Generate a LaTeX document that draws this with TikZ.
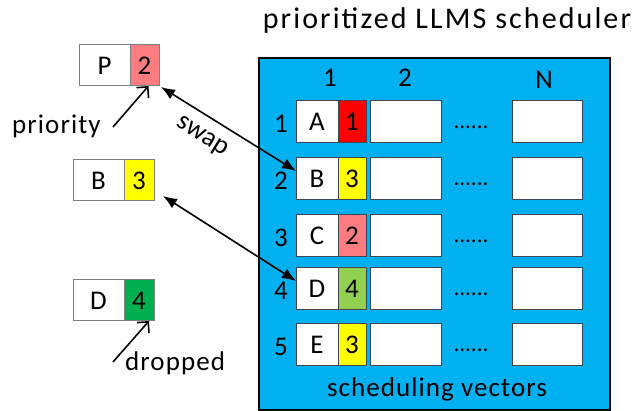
\documentclass[tikz,border=0pt]{standalone}
\usepackage{fontspec}
\setmainfont{Carlito}
\newfontfamily\lblfont[LetterSpace=4]{Carlito}
\newfontfamily\ttlfont[LetterSpace=7]{Carlito}
\usetikzlibrary{arrows.meta}

\definecolor{panelblue}{HTML}{00B0F0}
\definecolor{prRed}{HTML}{FF0000}
\definecolor{prYellow}{HTML}{FFFF00}
\definecolor{prPink}{HTML}{FF7C80}
\definecolor{prLime}{HTML}{92D050}
\definecolor{prGreen}{HTML}{00B050}
\definecolor{cellline}{HTML}{3B4650}
\definecolor{looseline}{HTML}{808080}

\tikzset{
  big/.style={font=\fontsize{27}{30}\selectfont},
  cell/.style={draw=cellline, line width=1pt, fill=white, minimum height=42pt,
    inner sep=0pt, outer sep=0pt, anchor=north west, big},
  loose/.style={cell, draw=looseline, minimum height=41pt},
  label/.style={inner sep=0pt, font=\lblfont\fontsize{27}{30}\selectfont},
  swaparrow/.style={arrows={Latex[length=14pt,width=11pt]-Latex[length=14pt,width=11pt]},
    line width=1.6pt, shorten <=0pt, shorten >=0pt},
  pointer/.style={arrows={-Straight Barb[length=8pt,width=16pt]}, line width=1.6pt},
}

\begin{document}
\begin{tikzpicture}[x=1pt, y=-1pt]
\useasboundingbox (0,0) rectangle (641,411);

% title
\node[inner sep=0pt, anchor=base, font=\ttlfont\fontsize{30}{33}\selectfont]
  (title) at (447,29) {prioritized LLMS scheduler};

% scheduler panel
\node[draw=black, line width=1.6pt, fill=panelblue, minimum width=351pt,
  minimum height=352pt, anchor=north west, inner sep=0pt] (panel) at (258,57) {};

% column headers
\node[big, inner sep=0pt] (h1) at (330,78) {1};
\node[big, inner sep=0pt] (h2) at (405,78) {2};
\node[big, inner sep=0pt] (hN) at (544,80) {N};

% rows of the scheduling vectors
\foreach \r/\t/\L/\p/\c in {1/101/A/1/prRed, 2/158/B/3/prYellow, 3/215/C/2/prPink,
                              4/268/D/4/prLime, 5/324/E/3/prYellow} {
  \node[big, inner sep=0pt] (row\r) at (281,\t+23) {\r};
  \node[cell, minimum width=42pt] (v\r) at (296,\t) {\L};
  \node[cell, minimum width=28pt, fill=\c] (v\r p) at (338,\t) {\p};
  \node[cell, minimum width=71pt] (v\r b) at (370,\t) {};
  \node[inner sep=0pt, anchor=base, font=\fontsize{23}{26}\selectfont] (dots\r) at (471,\t+28) {......};
  \node[cell, minimum width=70pt] (v\r n) at (512,\t) {};
}

\node[label, anchor=base] (caption) at (437,397) {scheduling vectors};

% requests held outside the scheduler
\node[loose, minimum width=51pt] (P) at (79,45) {P};
\node[loose, minimum width=29pt, fill=prPink] (Pp) at (130,45) {2};
\node[loose, minimum width=51pt] (B) at (73,160) {B};
\node[loose, minimum width=30pt, fill=prYellow] (Bp) at (124,160) {3};
\node[loose, minimum width=51pt] (D) at (73,280) {D};
\node[loose, minimum width=30pt, fill=prGreen] (Dp) at (124,280) {4};

% annotations
\node[label, anchor=base west] (prio) at (12,134) {priority};
\node[label, anchor=base west] (drop) at (125,371) {dropped};
\coordinate (priotail) at (113,127);
\coordinate (droptail) at (113,362);
\draw[pointer] (priotail) -- ([xshift=4pt]Pp.south);
\draw[pointer] (droptail) -- ([xshift=10pt]Dp.south);

% swaps between outside requests and vector entries
\draw[swaparrow] ([xshift=2pt,yshift=-1pt]Pp.south east) -- ([yshift=8pt]v2.west);
\draw[swaparrow] ([xshift=9pt,yshift=5pt]Bp.south east) -- ([yshift=8pt]v4.west);
\node[big, inner sep=0pt, rotate=-32] (swaplbl) at (202,137) {swap};
\end{tikzpicture}
\end{document}
